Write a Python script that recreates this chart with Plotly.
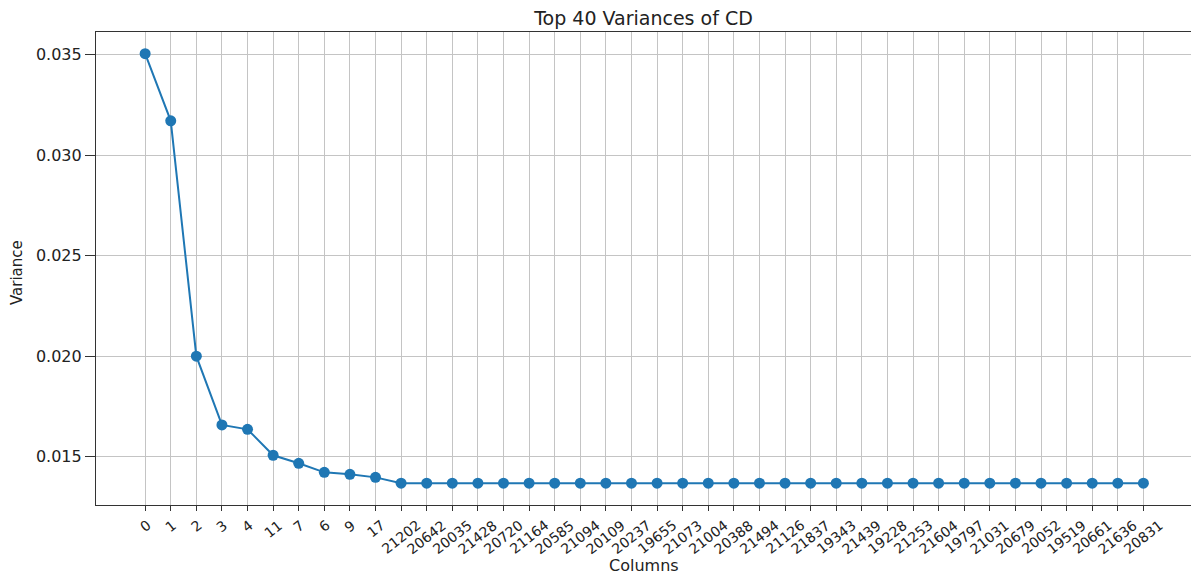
import plotly.graph_objects as go

columns = ["0", "1", "2", "3", "4", "11", "7", "6", "9", "17",
           "21202", "20642", "20035", "21428", "20720", "21164", "20585", "21094", "20109", "20237",
           "19655", "21073", "21004", "20388", "21494", "21126", "21837", "19343", "21439", "19228",
           "21253", "21604", "19797", "21031", "20679", "20052", "19519", "20661", "21636", "20831"]
variances = [0.03505, 0.03171, 0.0200, 0.01658, 0.01636, 0.01507, 0.01467, 0.01422, 0.01412, 0.01397] + [0.01368] * 30
y_ticks = [0.015, 0.020, 0.025, 0.030, 0.035]

FONT = "DejaVu Sans"
W, H = 1191, 574
L, R, T, B = 96, 0, 32, 69
pw, ph = W - L - R, H - T - B


def px_to_paper_x(px):
    return (px - L) / pw


def px_to_paper_y(py):
    return (H - B - py) / ph


xs = list(range(len(columns)))
fig = go.Figure()
fig.add_trace(go.Scatter(
    x=xs, y=variances, mode="lines+markers",
    line=dict(color="#1f77b4", width=2),
    marker=dict(color="#1f77b4", size=11),
    showlegend=False,
))

annotations = [
    dict(text=c, x=i, y=px_to_paper_y(514), xref="x", yref="paper",
         xanchor="center", yanchor="top", textangle=-38, showarrow=False,
         font=dict(size=14, family=FONT, color="#222"))
    for i, c in zip(xs, columns)
]
annotations += [
    dict(text="Columns", x=px_to_paper_x(643.5), y=px_to_paper_y(565), xref="paper", yref="paper",
         xanchor="center", yanchor="middle", showarrow=False,
         font=dict(size=16, family=FONT, color="#222")),
    dict(text="Variance", x=px_to_paper_x(17), y=px_to_paper_y(273), xref="paper", yref="paper",
         xanchor="center", yanchor="middle", showarrow=False, textangle=-90,
         font=dict(size=15, family=FONT, color="#222")),
]

fig.update_layout(
    width=W, height=H,
    margin=dict(l=L, r=R, t=T, b=B),
    paper_bgcolor="white", plot_bgcolor="white",
    font=dict(family=FONT, color="#222"),
    title=dict(text="Top 40 Variances of CD", x=643.5 / W, xanchor="center",
               y=1 - 18 / H, yanchor="middle", yref="container", xref="container",
               font=dict(size=19, family=FONT, color="#222")),
    xaxis=dict(
        range=[-1.92, 40.86], tickmode="array", tickvals=xs,
        showticklabels=False,
        ticks="outside", ticklen=5, tickcolor="#333",
        showgrid=True, gridcolor="#c4c4c4", gridwidth=1,
        showline=True, linecolor="#333", linewidth=1.2, mirror=True,
        zeroline=False, automargin=False,
    ),
    yaxis=dict(
        range=[0.012595, 0.03613], tickmode="array", tickvals=y_ticks,
        ticktext=[f"{v:.3f}" for v in y_ticks],
        tickfont=dict(size=16, family=FONT, color="#222"),
        ticks="outside", ticklen=10, tickcolor="#333",
        showgrid=True, gridcolor="#c4c4c4", gridwidth=1,
        showline=True, linecolor="#333", linewidth=1.2,
        zeroline=False, automargin=False,
    ),
    annotations=annotations,
)

fig.write_html("out.html", config={"displayModeBar": False},
               post_script="document.body.style.margin='0';document.body.style.overflow='hidden';")
